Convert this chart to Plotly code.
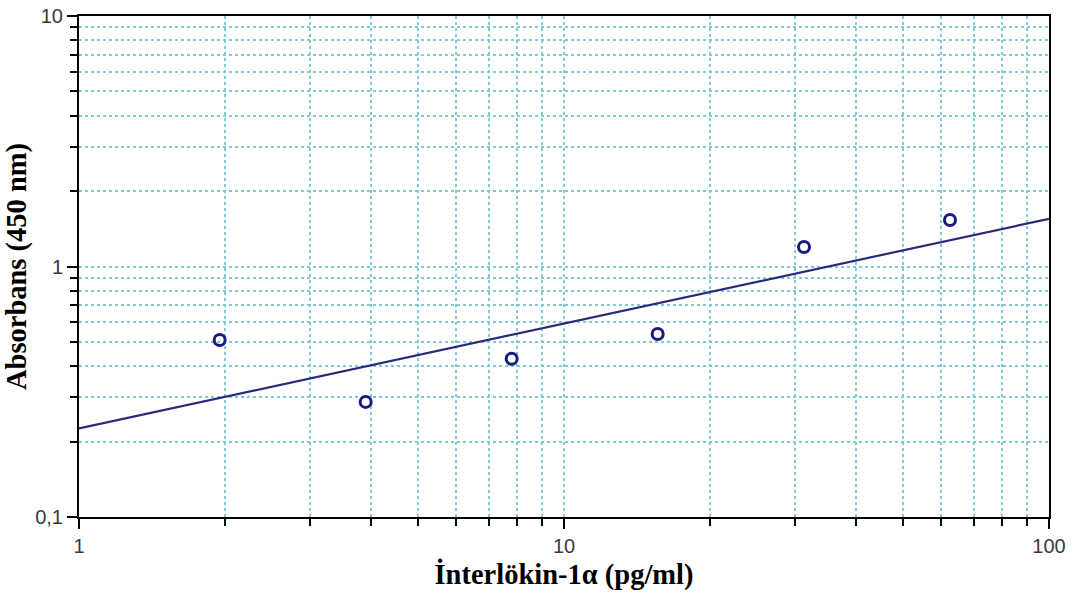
import plotly.graph_objects as go

conc = [1.95, 3.9, 7.8, 15.6, 31.25, 62.5]
absorb = [0.509, 0.288, 0.428, 0.538, 1.197, 1.534]
fit_x = [1, 100]
fit_y = [0.226, 1.55]

x_major = [1, 10, 100]
x_major_text = ["1", "10", "100"]
y_major = [0.1, 1, 10]
y_major_text = ["0,1", "1", "10"]
x_minor = [2, 3, 4, 5, 6, 7, 8, 9, 10, 20, 30, 40, 50, 60, 70, 80, 90]
y_minor = [0.2, 0.3, 0.4, 0.5, 0.6, 0.7, 0.8, 0.9, 1, 2, 3, 4, 5, 6, 7, 8, 9]

navy = "#2a2a7a"
gridc = "#7fcbd0"

fig = go.Figure()
fig.add_trace(go.Scatter(x=fit_x, y=fit_y, mode="lines",
                         line=dict(color=navy, width=2.2), showlegend=False))
fig.add_trace(go.Scatter(x=conc, y=absorb, mode="markers",
                         marker=dict(symbol="circle-open", size=11, color="#1a1a80",
                                     line=dict(width=3, color="#1a1a80")),
                         showlegend=False))

axfont = dict(family="Liberation Sans, Arial", size=20, color="#3a3a3a")
titlefont = dict(family="Liberation Serif, Times New Roman", size=28.5, color="black")

fig.update_xaxes(type="log", range=[0, 2], tickvals=x_major, ticktext=x_major_text,
                 showgrid=False, zeroline=False, showline=True, linecolor="black", linewidth=2,
                 mirror=True, ticks="outside", ticklen=10, tickwidth=2, tickcolor="black",
                 tickfont=axfont, automargin=False,
                 minor=dict(tickvals=x_minor, showgrid=True, gridcolor=gridc, gridwidth=2,
                            griddash="dot", ticks="outside", ticklen=7, tickwidth=2,
                            tickcolor="black"),
                 title=dict(text="<b>İnterlökin-1α (pg/ml)</b>", font=titlefont, standoff=8))
fig.update_yaxes(type="log", range=[-1, 1], tickvals=y_major, ticktext=y_major_text,
                 showgrid=False, zeroline=False, showline=True, linecolor="black", linewidth=2,
                 mirror=True, ticks="outside", ticklen=10, tickwidth=2, tickcolor="black",
                 tickfont=axfont, automargin=False,
                 minor=dict(tickvals=y_minor, showgrid=True, gridcolor=gridc, gridwidth=2,
                            griddash="dot", ticks="outside", ticklen=7, tickwidth=2,
                            tickcolor="black"),
                 title=dict(text="<b>Absorbans (450 nm)</b>", font=titlefont, standoff=0))

fig.update_layout(width=1074, height=599, margin=dict(l=79, r=25, t=16, b=82),
                  plot_bgcolor="white", paper_bgcolor="white")

fig.write_html("out.html")
